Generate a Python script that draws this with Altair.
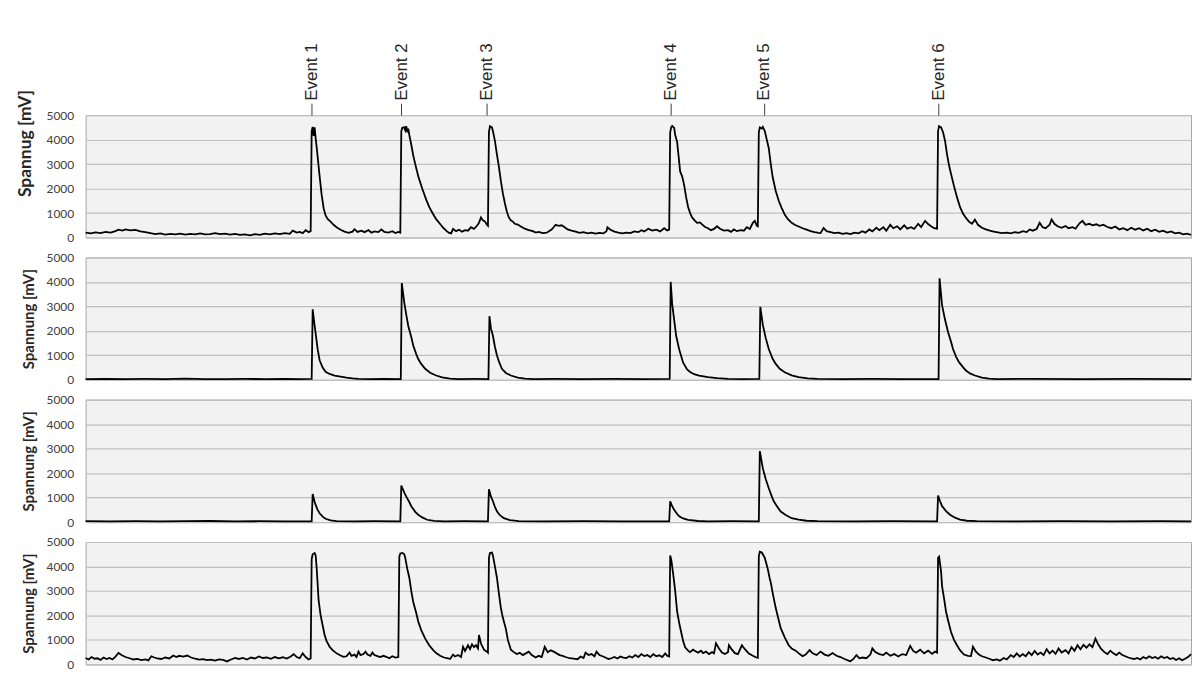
import altair as alt
import pandas as pd

# time index (samples) and event markers
event_t = [227, 317, 403, 587, 681, 856]
event_names = ["Event 1", "Event 2", "Event 3", "Event 4", "Event 5", "Event 6"]
y_ticks = [0, 1000, 2000, 3000, 4000, 5000]
titles = ["Spannug [mV]", "Spannung [mV]", "Spannung [mV]", "Spannung [mV]"]

# ---- Sensor 1 ----
s1_t = [0, 5, 10, 15, 20, 25, 30, 33, 37, 40, 45, 50, 55, 60, 65, 70, 75, 80, 85, 90, 95, 100, 105, 110, 115,
        120, 125, 130, 135, 140, 145, 150, 155, 160, 165, 170, 175, 180, 185, 190, 195, 200, 205, 208, 212,
        215, 218, 221, 224, 226,
        227, 228, 229, 230, 231, 232, 233, 235, 237, 239, 241, 243, 246, 249, 252, 256, 260, 264, 268, 270,
        273, 277, 280, 284, 287, 290, 294, 297, 300, 304, 308, 311, 314, 316,
        317, 318, 320, 321, 322, 323, 324, 325, 327, 329, 331, 334, 338, 342, 345, 349, 352, 356, 359, 362,
        365, 367, 369, 372, 375, 378, 381, 384, 387, 390, 393, 395, 397, 399, 401, 403, 404,
        405, 406, 408, 409, 411, 413, 415, 417, 419, 421, 423, 425, 427, 429, 431, 434, 437, 441, 445, 449,
        452, 455, 459, 463, 466, 468, 470, 472, 475, 478, 481, 484, 488, 492, 496, 500, 504, 508, 512, 516,
        520, 523, 524, 527, 531, 535, 539, 543, 547, 551, 555, 558, 561, 565, 569, 573, 577, 581, 584, 586,
        587, 588, 589, 591, 592, 594, 596, 597, 599, 601, 603, 605, 607, 609, 612, 614, 617, 619, 622, 625,
        628, 631, 634, 637, 641, 645, 648, 651, 654, 658, 661, 664, 667, 670, 672, 674, 675,
        676, 677, 679, 680, 682, 684, 686, 688, 690, 693, 696, 699, 702, 705, 709, 712, 716, 720, 724, 728,
        732, 736, 738, 741, 744, 748, 752, 756, 760, 764, 768, 772, 776, 780, 783, 787, 790, 794, 797, 801,
        804, 808, 811, 815, 818, 822, 825, 829, 832, 836, 839, 843, 846, 849, 852, 855,
        856, 857, 859, 861, 863, 865, 867, 869, 872, 875, 878, 881, 884, 887, 890, 893, 896, 900, 904, 908,
        912, 916, 920, 925, 929, 933, 937, 941, 945, 948, 951, 955, 958, 961, 964, 968, 970, 973, 976, 980,
        984, 987, 991, 994, 998, 1001, 1004, 1008, 1011, 1015, 1018, 1022, 1026, 1030, 1034, 1038, 1042,
        1046, 1050, 1054, 1058, 1062, 1066, 1070, 1074, 1078, 1082, 1086, 1090, 1094, 1098, 1102, 1106, 1110]
s1_v = [200, 170, 210, 180, 230, 200, 260, 320, 280, 330, 290, 310, 250, 220, 180, 140, 170, 120, 150, 130,
        160, 120, 150, 130, 170, 130, 140, 180, 140, 160, 120, 150, 110, 130, 90, 140, 110, 160, 130, 170,
        140, 180, 150, 280, 200, 230, 180, 300, 220, 260,
        4350, 4520, 4150, 4500, 4050, 3700, 3300, 2500, 1750, 1200, 900, 760, 650, 520, 420, 320, 240, 190,
        240, 340, 230, 280, 220, 300, 200, 250, 220, 330, 230, 200, 260, 180, 230, 200,
        4350, 4480, 4500, 4380, 4550, 4300, 4450, 4200, 3800, 3350, 3000, 2500, 2000, 1550, 1250, 950, 750,
        550, 400, 280, 190, 170, 350, 260, 320, 240, 300, 280, 420, 350, 480, 600, 820, 700, 650, 520, 480,
        4300, 4550, 4500, 4350, 3950, 3400, 2900, 2300, 1800, 1400, 1050, 820, 700, 650, 560, 530, 450, 360,
        300, 260, 200, 230, 180, 200, 280, 330, 420, 520, 480, 500, 420, 330, 280, 240, 190, 220, 170, 200,
        160, 190, 170, 260, 420, 320, 240, 200, 170, 200, 180, 250, 220, 300, 250, 360, 280, 320, 250, 380,
        290, 320,
        4300, 4500, 4560, 4480, 4200, 3900, 3100, 2700, 2500, 2150, 1650, 1250, 1000, 820, 680, 600, 620,
        540, 430, 380, 300, 350, 460, 360, 280, 300, 230, 330, 260, 300, 280, 420, 350, 600, 680, 480, 460,
        4300, 4500, 4450, 4520, 4350, 4000, 3650, 3000, 2450, 1900, 1500, 1200, 940, 760, 600, 520, 450, 380,
        320, 260, 220, 190, 180, 390, 260, 220, 180, 200, 150, 180, 140, 200, 170, 260, 200, 330, 250, 400,
        300, 420, 280, 520, 380, 460, 330, 500, 360, 420, 350, 560, 430, 680, 550, 460, 380, 360,
        4350, 4550, 4500, 4300, 3950, 3400, 2950, 2600, 2100, 1650, 1250, 980, 800, 650, 560, 730, 520, 400,
        330, 280, 240, 210, 180, 200, 170, 220, 190, 260, 220, 330, 280, 350, 600, 420, 380, 520, 740, 550,
        460, 400, 470, 380, 420, 360, 580, 680, 520, 560, 500, 540, 480, 520, 430, 380, 450, 330, 380, 300,
        400, 320, 380, 290, 360, 260, 320, 230, 280, 200, 250, 170, 200, 130, 160, 110]

# ---- Sensor 2 ----
s2_t = [0, 20, 40, 60, 80, 100, 120, 140, 160, 180, 200, 215, 227,
        228, 230, 231, 233, 235, 238, 241, 245, 250, 256, 262, 268, 274, 285, 300, 316.5,
        317.5, 320, 322, 324, 327, 329, 332, 334, 337, 341, 346, 352, 358, 366, 375, 390, 404.5,
        405.5, 407, 409, 411, 413, 415, 418, 422, 427, 434, 441, 450, 470, 500, 530, 560, 586.5,
        587.5, 589, 591, 593, 596, 600, 604, 607, 611, 616, 625, 634, 645, 660, 676.5,
        677.5, 680, 683, 686, 690, 693, 697, 702, 709, 716, 725, 735, 760, 790, 820, 856.5,
        857.5, 860, 863, 866, 869, 871, 874, 877, 881, 884, 888, 893, 900, 907, 915, 950, 1000, 1050, 1110]
s2_v = [30, 40, 25, 35, 30, 45, 30, 25, 35, 30, 40, 30, 35,
        2880, 2200, 1900, 1250, 800, 500, 330, 240, 170, 130, 90, 60, 40, 30, 40, 30,
        3950, 3150, 2650, 2200, 1750, 1400, 1050, 850, 650, 450, 290, 175, 100, 45, 30, 35, 30,
        2600, 2100, 1800, 1350, 1000, 750, 450, 280, 175, 90, 45, 30, 40, 30, 35, 30, 35,
        4000, 3100, 2450, 1800, 1250, 700, 420, 320, 230, 175, 110, 70, 40, 30, 35,
        2980, 2250, 1700, 1260, 850, 650, 450, 310, 180, 110, 60, 35, 30, 40, 30, 30,
        4150, 3050, 2450, 1950, 1550, 1260, 950, 720, 520, 380, 260, 175, 90, 45, 30, 40, 30, 40, 30]

# ---- Sensor 3 ----
s3_t = [0, 25, 50, 75, 100, 125, 150, 175, 200, 227,
        228, 230, 231, 233, 235, 238, 241, 246, 252, 270, 290, 316,
        317, 320, 322, 325, 327, 331, 334, 338, 343, 350, 360, 380, 404,
        405, 407, 409, 411, 413, 416, 420, 426, 435, 460, 500, 540, 586,
        587, 589, 591, 594, 596, 600, 605, 615, 625, 650, 676,
        677, 680, 683, 686, 689, 691, 695, 698, 703, 709, 716, 724, 735, 770, 810, 855,
        856, 858, 860, 864, 868, 873, 878, 885, 895, 930, 980, 1030, 1080, 1110]
s3_v = [35, 30, 40, 30, 35, 45, 30, 35, 30, 30,
        1150, 820, 700, 500, 360, 220, 135, 70, 35, 30, 40, 30,
        1490, 1200, 1040, 820, 650, 420, 300, 190, 95, 45, 30, 35, 30,
        1340, 1050, 850, 620, 440, 280, 160, 80, 35, 30, 40, 30, 30,
        850, 650, 500, 330, 240, 150, 90, 45, 30, 35, 30,
        2900, 2200, 1750, 1380, 1050, 850, 600, 430, 290, 160, 100, 55, 35, 30, 40, 30,
        1080, 850, 650, 450, 300, 180, 100, 55, 35, 30, 40, 30, 35, 30]

# ---- Sensor 4 ----
s4_t = [0, 3, 6, 9, 12, 15, 18, 21, 24, 27, 30, 33, 36, 40, 44, 48, 52, 56, 60, 63, 66, 69, 72, 76, 80, 84,
        88, 91, 94, 98, 102, 106, 110, 114, 118, 122, 126, 130, 134, 138, 142, 146, 150, 154, 158, 162, 166,
        170, 174, 178, 182, 186, 190, 194, 198, 202, 206, 209, 212, 215, 218, 221, 224, 226,
        227, 228, 230, 231, 232, 234, 236, 238, 240, 242, 245, 248, 252, 256, 259, 262, 265, 267, 270, 272,
        274, 276, 279, 281, 283, 286, 288, 290, 293, 296, 299, 302, 305, 308, 311, 314,
        315, 316, 318, 320, 321, 323, 325, 327, 329, 332, 334, 337, 341, 345, 349, 352, 356, 360, 364, 366,
        369, 371, 374, 377, 379, 381, 384, 386, 388, 390, 392, 394, 395, 397, 400, 403, 404,
        405, 406, 408, 409, 411, 413, 415, 417, 419, 422, 424, 427, 430, 433, 436, 439, 442, 445, 448, 452,
        455, 458, 461, 464, 467, 470, 473, 476, 479, 482, 486, 490, 494, 497, 500, 502, 505, 508, 511, 513,
        516, 519, 522, 525, 528, 531, 534, 537, 540, 543, 546, 549, 552, 555, 558, 561, 564, 567, 570, 573,
        576, 579, 582, 584, 586,
        587, 588, 590, 592, 594, 596, 598, 600, 602, 605, 607, 610, 612, 615, 618, 620, 623, 626, 629, 631,
        633, 636, 639, 642, 645, 646, 649, 652, 655, 659, 662, 666, 670, 673, 675,
        676, 677, 679, 680, 682, 684, 685, 687, 688, 690, 693, 696, 698, 702, 706, 709, 713, 717, 720, 723,
        727, 730, 734, 738, 742, 746, 750, 754, 758, 762, 766, 768, 771, 774, 777, 780, 784, 788, 790, 793,
        797, 801, 804, 808, 812, 816, 820, 824, 828, 831, 834, 838, 842, 846, 850, 853, 855,
        856, 857, 859, 860, 862, 864, 866, 869, 872, 875, 878, 882, 886, 889, 891, 894, 897, 900, 904, 908,
        911, 915, 918, 922, 925, 929, 932, 935, 938, 941, 944, 947, 950, 953, 956, 959, 962, 965, 968, 971,
        974, 977, 980, 984, 987, 990, 993, 996, 999, 1002, 1005, 1008, 1011, 1014, 1017, 1020, 1023, 1026,
        1029, 1032, 1035, 1038, 1041, 1044, 1047, 1050, 1053, 1056, 1059, 1062, 1065, 1068, 1071, 1074, 1077,
        1080, 1083, 1086, 1089, 1092, 1095, 1098, 1101, 1104, 1107, 1110]
s4_v = [260, 200, 300, 230, 250, 180, 280, 220, 260, 200, 320, 470, 380, 300, 250, 200, 220, 170, 200, 160,
        330, 280, 240, 220, 280, 240, 360, 300, 350, 320, 360, 280, 230, 190, 210, 170, 190, 150, 200, 180,
        120, 200, 260, 220, 260, 200, 280, 240, 320, 260, 280, 230, 300, 250, 290, 240, 320, 420, 300, 250,
        450, 300, 200, 240,
        4300, 4500, 4550, 4450, 3950, 2600, 2000, 1600, 1200, 950, 720, 580, 450, 360, 310, 330, 480, 350,
        400, 300, 520, 380, 420, 520, 400, 350, 480, 380, 340, 300, 350, 310, 250, 330, 280, 300,
        4400, 4530, 4550, 4500, 4350, 3900, 3550, 3000, 2550, 2100, 1750, 1400, 1050, 780, 580, 460, 350,
        280, 250, 220, 400, 320, 380, 300, 720, 550, 780, 620, 820, 700, 780, 650, 1200, 850, 600, 520, 480,
        4350, 4550, 4570, 4450, 4000, 3550, 2900, 2300, 1900, 1450, 1000, 600, 500, 420, 470, 380, 450, 520,
        380, 280, 350, 300, 720, 500, 580, 520, 450, 380, 350, 300, 250, 230, 210, 320, 260, 480, 380, 420,
        330, 520, 380, 330, 280, 220, 250, 300, 240, 320, 280, 260, 330, 280, 380, 300, 420, 340, 380, 300,
        420, 330, 370, 300, 450, 350, 320,
        4450, 4300, 3700, 3000, 2150, 1700, 1320, 950, 700, 560, 500, 600, 550, 480, 560, 460, 520, 420, 500,
        450, 860, 650, 480, 420, 500, 780, 600, 460, 420, 780, 620, 440, 350, 290, 270,
        4400, 4600, 4570, 4500, 4350, 4050, 3900, 3500, 3350, 2900, 2300, 1800, 1480, 1100, 780, 650, 560,
        420, 330, 400, 580, 450, 380, 520, 400, 350, 460, 350, 300, 220, 150, 130, 220, 380, 250, 280, 250,
        400, 650, 500, 420, 380, 480, 350, 420, 320, 420, 380, 750, 550, 480, 600, 450, 560, 430, 520, 480,
        4350, 4400, 3800, 3200, 2700, 2150, 1800, 1320, 1000, 780, 580, 400, 350, 340, 720, 520, 400, 330,
        280, 220, 170, 200, 150, 260, 200, 380, 300, 450, 320, 420, 330, 500, 380, 550, 400, 480, 380, 620,
        450, 560, 430, 650, 480, 580, 450, 700, 550, 780, 620, 800, 680, 820, 700, 1050, 800, 620, 500, 420,
        560, 450, 380, 480, 380, 330, 280, 240, 220, 260, 200, 300, 240, 330, 260, 300, 230, 330, 260, 300,
        220, 260, 180, 250, 170, 230, 300, 420]

series = [(s1_t, s1_v), (s2_t, s2_v), (s3_t, s3_v), (s4_t, s4_v)]

label_expr = "[" + ",".join("'%s'" % n for n in event_names) + "][indexof([" + \
    ",".join(str(v) for v in event_t) + "], datum.value)]"

W, H = 1111, 123
panels = []
for i, (ts, vs) in enumerate(series):
    df = pd.DataFrame({"t": ts, "v": vs})
    if i == 0:
        xaxis = alt.Axis(orient="top", values=event_t, labelExpr=label_expr, ticks=True, tickSize=12,
                         tickColor="#404040", tickWidth=1, domain=False, grid=False, labelAngle=270,
                         labelAlign="left", labelBaseline="middle", labelPadding=3,
                         labelFont="Liberation Sans", labelFontSize=17, labelColor="#262626",
                         labelFlush=False, labelOverlap=False, title=None)
    else:
        xaxis = None
    yaxis_kwargs = dict(values=y_ticks, format="d", title=titles[i], titleFont="Lato",
                        titleFontSize=17.5 if i == 0 else 15, titleFontWeight="bold",
                        titleColor="#262626", titlePadding=12 if i == 0 else 9.5,
                        labelFont="Lato", labelFontSize=12, labelColor="#404040", labelPadding=12,
                        ticks=False, tickSize=0, domain=False, grid=True, gridColor="#bfbfbf",
                        gridWidth=1.2, labelFlush=False)
    if i == 0:
        yaxis_kwargs["titleY"] = 28
    ch = alt.Chart(df).mark_line(color="#000000", strokeWidth=1.8).encode(
        x=alt.X("t:Q", scale=alt.Scale(domain=[0, 1110], nice=False, zero=False), axis=xaxis),
        y=alt.Y("v:Q", scale=alt.Scale(domain=[0, 5000], nice=False), axis=alt.Axis(**yaxis_kwargs)),
    ).properties(width=W, height=H)
    panels.append(ch)

chart = alt.vconcat(*panels, spacing=20, bounds="flush").properties(
    padding={"top": 32, "left": 7, "right": 0, "bottom": 0},
    background="#ffffff",
).configure_view(fill="#f2f2f2", stroke="#a6a6a6", strokeWidth=1)

chart.save("out.html", embed_options={"renderer": "svg", "actions": False})
